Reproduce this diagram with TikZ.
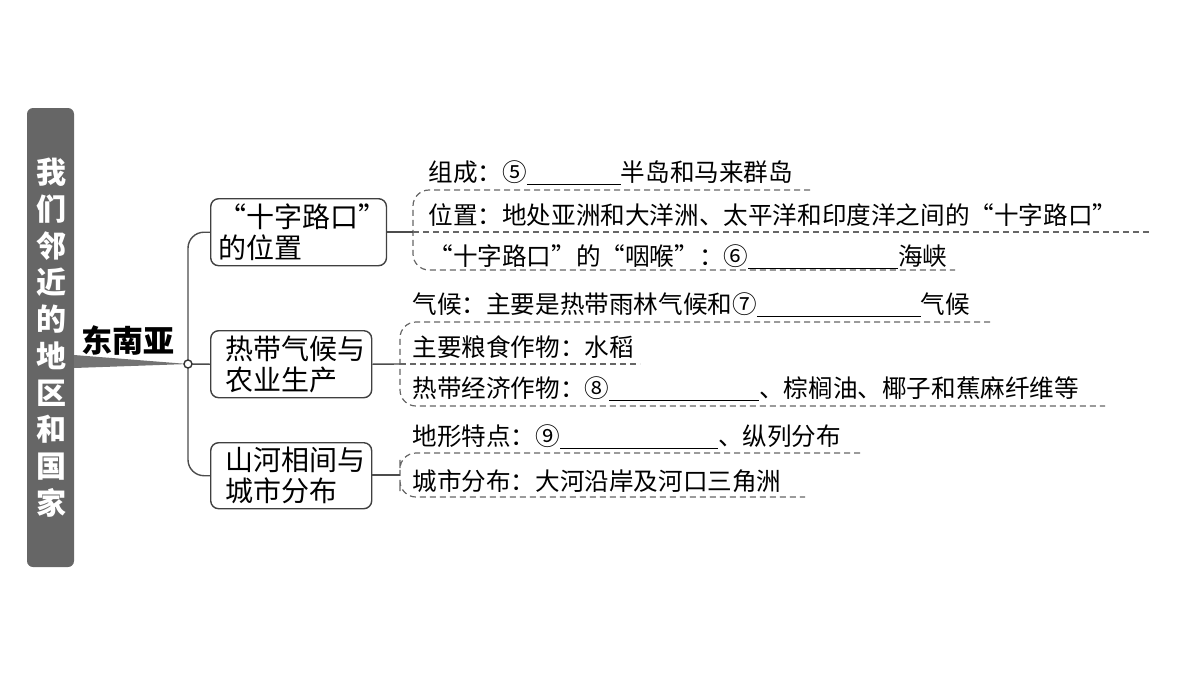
\documentclass[tikz,border=0pt]{standalone}
\usepackage{fontspec}
\setmainfont{Noto Sans CJK SC}
\newfontfamily\cjk{Noto Sans CJK SC}
\usetikzlibrary{positioning}
\newcommand{\blank}[1]{\underline{\hspace{#1}}}
\tikzset{
  topic/.style={draw=black!75, rounded corners=4pt, line width=0.7pt, align=left,
    inner sep=0pt, anchor=north west, font=\fontsize{14}{15.5}\selectfont},
  item/.style={anchor=west, inner sep=0pt, font=\fontsize{12.3}{13}\selectfont},
  dashline/.style={densely dashed, draw=black!60, line width=0.6pt},
  link/.style={draw=black!70, line width=0.7pt}
}
\begin{document}
\begin{tikzpicture}[x=0.5pt,y=-0.5pt]
  \useasboundingbox (0,0) rectangle (1200,675);
  % left bar
  \fill[black!60, rounded corners=3pt] (27,108) rectangle (74,567);
  \foreach \c [count=\k from 0] in {我,们,邻,近,的,地,区,和,国,家} {
    \node[text=white, font=\fontsize{15}{15}\selectfont\bfseries] at (51,{172+36.8*\k}) {\c};
  }
  % wedge and root
  \coordinate (hub) at (188,364);
  \fill[black!55] (74,355) -- (hub) -- (74,368) -- cycle;
  \node[font=\fontsize{15.5}{17}\selectfont\bfseries] (root) at (128,340) {东南亚};
  % topics
  \node[topic, minimum width=87.5pt, minimum height=33.5pt] (pos) at (210,198) {\;“十字路口”\\\;的位置};
  \node[topic, minimum width=80.5pt, minimum height=33.5pt] (clim) at (210,330) {\;热带气候与\\\;农业生产};
  \node[topic, minimum width=80.5pt, minimum height=33pt] (city) at (210,442) {\;山河相间与\\\;城市分布};
  \draw[link, rounded corners=8pt] (pos.west) -| (hub) |- (city.west);
  \draw[link] (hub) -- (clim.west);
  \filldraw[fill=white, draw=black!80, line width=0.7pt] (hub) circle (4);
  % group 1
  \node[item] (a1) at (428,173) {组成：⑤\blank{47pt}半岛和马来群岛};
  \node[item] (a2) at (428,215) {位置：地处亚洲和大洋洲、太平洋和印度洋之间的“十字路口”};
  \node[item] (a3) at (428,257) {“十字路口”的“咽喉”：⑥\blank{75pt}海峡};
  \draw[dashline, rounded corners=8pt] (810,190) -| (413,232) |- (955,270);
  \draw[dashline] (413,232) -- (1150,232);
  \draw[link] (pos.east |- 0,232) -- (413,232);
  % group 2
  \node[item] (b1) at (412,305) {气候：主要是热带雨林气候和⑦\blank{82pt}气候};
  \node[item] (b2) at (412,347) {主要粮食作物：水稻};
  \node[item] (b3) at (412,389) {热带经济作物：⑧\blank{75pt}、棕榈油、椰子和蕉麻纤维等};
  \draw[dashline, rounded corners=8pt] (990,322) -| (400,364) |- (1105,406);
  \draw[dashline] (400,364) -- (640,364);
  \draw[link] (clim.east) -- (400,364);
  % group 3
  \node[item] (c1) at (412,437) {地形特点：⑨\blank{79pt}、纵列分布};
  \node[item] (c2) at (412,481) {城市分布：大河沿岸及河口三角洲};
  \draw[dashline, rounded corners=8pt] (860,453) -| (400,475) |- (805,497);
  \draw[link] (city.east |- 0,475) -- (400,475);
\end{tikzpicture}
\end{document}
